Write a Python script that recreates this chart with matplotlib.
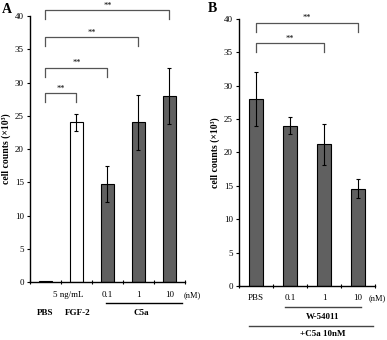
import numpy as np
import matplotlib
matplotlib.use("Agg")
import matplotlib.pyplot as plt
import matplotlib.transforms as mtrans

plt.rcParams['font.family'] = ['Liberation Serif', 'DejaVu Serif']

# panel A data
a_vals = [0.1, 24.0, 14.8, 24.0, 28.0]
a_errs = [0.0, 1.3, 2.7, 4.1, 4.2]
a_colors = ['#606060', 'white', '#606060', '#606060', '#606060']
a_ticks = ['', '5 ng/mL', '0.1', '1', '10']
# (start, end, height) for brackets
a_brackets = [(0, 1, 28.4), (0, 2, 32.2), (0, 3, 36.8), (0, 4, 40.9)]

# panel B data
b_vals = [28.0, 24.0, 21.2, 14.6]
b_errs = [4.1, 1.3, 3.1, 1.4]
b_ticks = ['PBS', '0.1', '1', '10']
b_brackets = [(0, 2, 36.4), (0, 3, 39.4)]

fs = 6.5
fig = plt.figure(figsize=(3.87, 3.4), dpi=100)
axA = fig.add_axes([0.0775, 0.1706, 0.4005, 0.782])
axB = fig.add_axes([0.6176, 0.159, 0.3514, 0.785])


def style(ax, n):
    ax.set_ylim(0, 40)
    ax.set_xlim(-0.5, n - 0.5)
    ax.set_yticks(range(0, 41, 5))
    ax.tick_params(axis='y', labelsize=fs, length=2.5, width=0.8, pad=2)
    ax.set_xticks(np.arange(-0.5, n, 1.0))
    ax.set_xticklabels([])
    ax.tick_params(axis='x', direction='inout', length=3, width=0.8)
    for s in ['top', 'right']:
        ax.spines[s].set_visible(False)
    for s in ['left', 'bottom']:
        ax.spines[s].set_linewidth(1.0)
    ax.set_ylabel('cell counts (×10³)', fontsize=7, fontweight='bold', labelpad=3)


def brackets(ax, items):
    for i0, i1, h in items:
        ax.plot([i0, i0, i1, i1], [h - 1.3, h, h, h - 1.3], color='#555555', lw=0.9, clip_on=False)
        ax.text((i0 + i1) / 2, h + 0.1, '**', ha='center', va='bottom', fontsize=6, clip_on=False)


style(axA, len(a_vals))
xa = np.arange(len(a_vals))
axA.bar(xa, a_vals, width=0.42, color=a_colors, edgecolor='black', linewidth=0.8)
axA.errorbar(xa[1:], a_vals[1:], yerr=a_errs[1:], fmt='none', ecolor='black', elinewidth=0.8, capsize=1.5, capthick=0.8)
brackets(axA, a_brackets)

trA = mtrans.blended_transform_factory(axA.transData, axA.transAxes)
for x, t in zip(xa, a_ticks):
    axA.text(x - (0.25 if x == 1 else 0), -0.035, t, transform=trA, ha='center', va='top', fontsize=fs)
axA.text(4.45, -0.035, '(nM)', transform=trA, ha='left', va='top', fontsize=6)
axA.plot([1.95, 4.4], [-0.079, -0.079], transform=trA, color='black', lw=1.0, clip_on=False)
for x, t in [(0, 'PBS'), (1.05, 'FGF-2'), (3.1, 'C5a')]:
    axA.text(x, -0.1, t, transform=trA, ha='center', va='top', fontsize=fs, fontweight='bold')

style(axB, len(b_vals))
xb = np.arange(len(b_vals))
axB.bar(xb, b_vals, width=0.44, color='#606060', edgecolor='black', linewidth=0.8)
axB.errorbar(xb, b_vals, yerr=b_errs, fmt='none', ecolor='black', elinewidth=0.8, capsize=1.5, capthick=0.8)
brackets(axB, b_brackets)

trB = mtrans.blended_transform_factory(axB.transData, axB.transAxes)
for x, t in zip(xb, b_ticks):
    axB.text(x, -0.03, t, transform=trB, ha='center', va='top', fontsize=fs)
axB.text(3.3, -0.03, '(nM)', transform=trB, ha='left', va='top', fontsize=6)
axB.plot([0.85, 3.1], [-0.079, -0.079], transform=trB, color='#444444', lw=1.0, clip_on=False)
axB.text(1.95, -0.1, 'W-54011', transform=trB, ha='center', va='top', fontsize=fs, fontweight='bold')
axB.plot([-0.2, 3.45], [-0.15, -0.15], transform=trB, color='#444444', lw=1.0, clip_on=False)
axB.text(1.95, -0.165, '+C5a 10nM', transform=trB, ha='center', va='top', fontsize=fs, fontweight='bold')

fig.text(0.006, 0.972, 'A', fontsize=10, fontweight='bold', ha='left', va='center')
fig.text(0.537, 0.976, 'B', fontsize=10, fontweight='bold', ha='left', va='center')

fig.savefig('out.png', dpi=100)
